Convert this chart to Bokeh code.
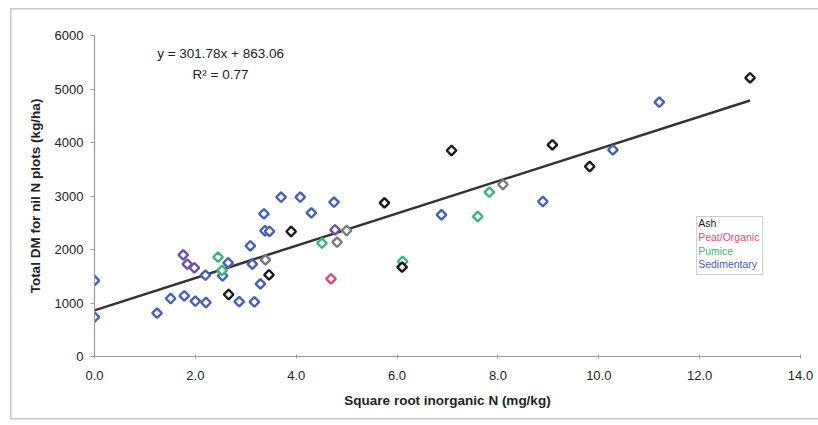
import numpy as np
from bokeh.plotting import figure
from bokeh.models import Label, BoxAnnotation, FixedTicker, NumeralTickFormatter, Range1d
from bokeh.embed import file_html
from bokeh.resources import INLINE

# Square root inorganic N (mg/kg) vs total DM on nil N plots (kg/ha), by soil group
sed_x = [0.0, 0.0, 1.24, 1.51, 1.78, 2.00, 2.21, 2.20, 2.54, 2.65, 2.87, 3.09, 3.13, 3.17,
         3.29, 3.36, 3.38, 3.47, 3.70, 4.08, 4.30, 4.75, 6.88, 8.89, 10.28, 11.20]
sed_y = [1420, 735, 810, 1084, 1134, 1034, 1009, 1520, 1508, 1751, 1025, 2069, 1726, 1020,
         1358, 2667, 2350, 2340, 2978, 2978, 2685, 2884, 2649, 2897, 3863, 4753]

ash_x = [2.66, 3.46, 3.90, 5.75, 6.10, 7.08, 9.08, 9.82, 13.0]
ash_y = [1159, 1527, 2336, 2872, 1670, 3850, 3957, 3551, 5209]

pum_x = [2.45, 2.53, 4.51, 6.11, 7.60, 7.83]
pum_y = [1857, 1610, 2118, 1776, 2617, 3071]

peat_x = [4.69]
peat_y = [1452]

grey_x = [3.39, 4.81, 5.00, 8.10]
grey_y = [1807, 2137, 2355, 3215]

purple_x = [1.76, 1.84, 1.98, 4.77]
purple_y = [1900, 1726, 1658, 2368]

# Linear fit reported on the chart
slope = 301.78
intercept = 863.06
r_squared = 0.77

legend_names = ["Ash", "Peat/Organic", "Pumice", "Sedimentary"]
legend_colors = ["#1a1a1a", "#e0487a", "#3cb37a", "#4a60b0"]

x_ticks = [0, 2, 4, 6, 8, 10, 12, 14]
y_ticks = [0, 1000, 2000, 3000, 4000, 5000, 6000]

FONT = "Liberation Sans"

# Thin grey frame around the chart, painted behind a transparent canvas
edge = "linear-gradient(#c8c8c8,#c8c8c8)"
chart_styles = {
    "background-color": "white",
    "background-image": ", ".join([edge] * 3),
    "background-size": "808px 1.5px, 1.5px 411px, 808px 1.5px",
    "background-position": "10px 8px, 10px 8px, 10px 418px",
    "background-repeat": "no-repeat",
}

p = figure(width=818, height=425, output_backend="svg", toolbar_location=None,
           x_range=Range1d(0, 14), y_range=Range1d(0, 6000),
           min_border_left=94, min_border_right=18, min_border_top=35, min_border_bottom=69,
           styles=chart_styles)
p.outline_line_color = None
p.xgrid.grid_line_color = None
p.ygrid.grid_line_color = None
p.background_fill_color = "white"
p.border_fill_color = None

# Axes
for ax in (p.xaxis, p.yaxis):
    ax.axis_line_color = "#9a9a9a"
    ax.axis_line_width = 1.2
    ax.major_tick_line_color = "#9a9a9a"
    ax.minor_tick_line_color = None
    ax.major_label_text_font = FONT
    ax.major_label_text_font_size = "13px"
    ax.major_label_text_color = "#222222"
    ax.axis_label_text_font = FONT
    ax.axis_label_text_font_size = "13.5px"
    ax.axis_label_text_font_style = "bold"
    ax.axis_label_text_color = "#222222"

p.xaxis.ticker = FixedTicker(ticks=x_ticks)
p.yaxis.ticker = FixedTicker(ticks=y_ticks)
p.xaxis.formatter = NumeralTickFormatter(format="0.0")
p.xaxis.major_tick_in = 2
p.xaxis.major_tick_out = 2
p.yaxis.major_tick_in = 0
p.yaxis.major_tick_out = 4
p.xaxis.major_label_standoff = 12
p.yaxis.major_label_standoff = 7
p.xaxis.axis_label_standoff = 10
p.yaxis.axis_label_standoff = 9
p.xaxis.axis_label = "Square root inorganic N (mg/kg)"
p.yaxis.axis_label = "Total DM for nil N plots (kg/ha)"

# Trend line across the observed range
xs = np.array([0.0, max(ash_x + sed_x + pum_x)])
p.line(xs, slope * xs + intercept, line_color="#333333", line_width=2.5)

def diamonds(x, y, color):
    p.scatter(x, y, marker="square", angle=np.pi / 4, size=6.8,
              fill_color="white", line_color=color, line_width=2.4)

diamonds(grey_x, grey_y, "#7a7a7a")
diamonds(sed_x, sed_y, legend_colors[3])
diamonds(purple_x, purple_y, "#6f52a0")
diamonds(pum_x, pum_y, legend_colors[2])
diamonds(ash_x, ash_y, legend_colors[0])
diamonds(peat_x, peat_y, legend_colors[1])

# Regression equation
p.add_layout(Label(x=2.5, y=5660, text=f"y = {slope}x + {intercept:.2f}", text_align="center",
                   text_baseline="middle", text_font=FONT, text_font_size="13.5px",
                   text_color="#222222"))
p.add_layout(Label(x=2.5, y=5270, text=f"R\u00b2 = {r_squared}", text_align="center",
                   text_baseline="middle", text_font=FONT, text_font_size="13.5px",
                   text_color="#222222"))

# Colour-coded key
p.add_layout(BoxAnnotation(left=11.94, right=13.25, top=2617, bottom=1533,
                           fill_color="white", fill_alpha=1.0,
                           line_color="#555555", line_width=1))
for i, (name, col) in enumerate(zip(legend_names, legend_colors)):
    p.add_layout(Label(x=11.97, y=2492 - i * 257, text=name, text_align="left",
                       text_baseline="middle", text_font=FONT, text_font_size="10.5px",
                       text_color=col))

open("out.html", "w").write(file_html(p, INLINE))
